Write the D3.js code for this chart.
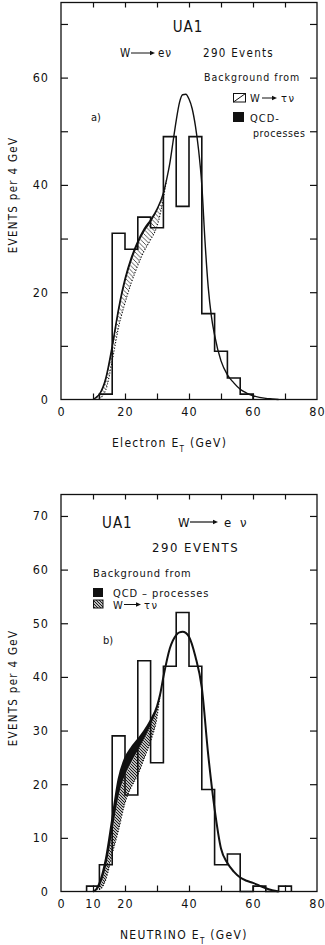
<!DOCTYPE html>
<html><head><meta charset="utf-8">
<script src="https://cdn.jsdelivr.net/npm/d3@7"></script>
<style>
html,body{margin:0;padding:0;background:#fff;}
svg{display:block;}
text{font-family:"Liberation Sans Narrow","DejaVu Sans Condensed","Roboto Condensed","Liberation Sans",sans-serif;fill:#111;}
</style></head><body>
<svg id="chart" width="325" height="945"></svg>
<script>
// ---- a) Electron E_T, events per 4 GeV bin ----
const binLeftA = [12,16,20,24,28,32,36,40,44,48,52,56];
const countsA  = [1,31,28,34,32,49,36,49,16,9,4,1];
// fitted spectrum (total, background included)
const fitEtA = [10,11,12,14,16,18,20,22,24,26,28,30,32,33,34,35,36,37,38,39,40,41,42,43,44,45,46,47,48,50,52,54,56,58,60,62,64,66,68];
const fitA   = [0,0.4,1,4,10,17,22.5,26.5,29.5,31.8,33.5,35.5,38.5,41,44,48,52,55.3,56.8,56.9,56,54.2,51,46.5,40,29.5,21,15.5,12,7.2,4.6,3.1,1.9,1.2,0.7,0.4,0.2,0.1,0];
// background bands: lower edge of QCD band and lower edge of W -> tau nu band
const bandEtA  = [11,12,14,16,18,20,22,24,26,28,30,32,33];
const qcdLowA  = [0.4,0.8,3.3,9.0,16.0,21.6,25.7,28.8,31.2,33.0,35.1,38.3,41];
const tauLowA  = [0.4,0.3,1.8,7.2,13.5,18,21.8,25,27.7,29.8,32.3,37.5,41];

// ---- b) Neutrino E_T ----
const binLeftB = [8,12,16,20,24,28,32,36,40,44,48,52,56,60,64,68];
const countsB  = [1,5,29,18,43,24,42,52,42,19,5,7,0,1,0,1];
const fitEtB = [10,11,12,14,16,18,20,22,24,26,28,30,31,32,34,36,37,38,39,40,42,44,46,48,50,52,54,56,58,60,62,64,66,68];
const fitB   = [0,0.4,1.5,6,13.5,21,24.8,26.8,28.3,29.9,31.9,34.5,36.8,40,45.3,47.8,48.3,48.4,48.2,47.5,43.8,38,25.5,15.4,8,5.3,3.7,2.6,2,1.6,1.1,0.6,0.25,0];
const bandEtB  = [11,12,14,16,18,20,22,24,26,28,30,31];
const qcdLowB  = [0.4,1.0,4.5,11,17.8,21.7,24.2,26.3,28.5,31,34,36.8];
const tauLowB  = [0.4,0.4,2.2,7,11.5,16.5,19.5,21.7,24.8,28,32.5,36.8];

const binWidth = 4;
const xTicks = [0,10,20,30,40,50,60,70,80];
const yTicks = [0,10,20,30,40,50,60,70];
const xLabelsA = [0,20,40,60,80];
const yLabelsA = [0,20,40,60];
const xLabelsB = [0,10,20,40,60,80];
const yLabelsB = [0,10,20,30,40,50,60,70];

const svg = d3.select("#chart");
const defs = svg.append("defs");

function hatchPattern(id, step, width) {
  const p = defs.append("pattern").attr("id", id)
    .attr("patternUnits", "userSpaceOnUse").attr("width", step).attr("height", step);
  p.append("path")
    .attr("d", `M0,0L${step},${step}M${-step/2},${step/2}L${step/2},${step*1.5}M${step/2},${-step/2}L${step*1.5},${step/2}`)
    .attr("stroke", "#111").attr("stroke-width", width);
}
hatchPattern("hatchA", 4.5, 0.7);
hatchPattern("hatchB", 3, 1.1);

function arrow(g, x1, x2, yy, w) {
  g.append("line").attr("x1", x1).attr("x2", x2 - 4).attr("y1", yy).attr("y2", yy)
    .attr("stroke", "#111").attr("stroke-width", w);
  g.append("path").attr("d", `M${x2},${yy}L${x2-5},${yy-2.3}L${x2-5},${yy+2.3}Z`).attr("fill", "#111");
}

function drawPanel(cfg) {
  const g = svg.append("g");
  const x = d3.scaleLinear().domain([0, 80]).range([61, 317]);
  const y = d3.scaleLinear().domain([0, 74]).range([cfg.bottom, cfg.bottom - 397]);

  // background bands
  const band = cfg.bandEt.map((e, i) => ({
    e, top: cfg.fit[cfg.fitEt.indexOf(e)], qcd: cfg.qcdLow[i], tau: cfg.tauLow[i]
  }));
  g.append("path").datum(band)
    .attr("d", d3.area().curve(d3.curveMonotoneX).x(d => x(d.e)).y0(d => y(d.qcd)).y1(d => y(d.top)))
    .attr("fill", "#111");
  g.append("path").datum(band)
    .attr("d", d3.area().curve(d3.curveMonotoneX).x(d => x(d.e)).y0(d => y(d.tau)).y1(d => y(d.qcd)))
    .attr("fill", `url(#${cfg.hatch})`);
  g.append("path").datum(band)
    .attr("d", d3.line().curve(d3.curveMonotoneX).x(d => x(d.e)).y(d => y(d.tau)))
    .attr("fill", "none").attr("stroke", "#111").attr("stroke-width", 1.1).attr("stroke-dasharray", "1.2,1.6");

  // histogram outline
  const steps = [[cfg.binLeft[0], 0]];
  cfg.binLeft.forEach((l, i) => { steps.push([l, cfg.counts[i]], [l + binWidth, cfg.counts[i]]); });
  steps.push([cfg.binLeft[cfg.binLeft.length - 1] + binWidth, 0]);
  g.append("path").datum(steps)
    .attr("d", d3.line().x(d => x(d[0])).y(d => y(d[1])))
    .attr("fill", "none").attr("stroke", "#111").attr("stroke-width", 1.6).attr("stroke-linejoin", "miter");

  // fitted curve
  const fitPts = cfg.fitEt.map((e, i) => [e, cfg.fit[i]]);
  g.append("path").datum(fitPts)
    .attr("d", d3.line().curve(d3.curveMonotoneX).x(d => x(d[0])).y(d => y(d[1])))
    .attr("fill", "none").attr("stroke", "#111").attr("stroke-width", cfg.fitWidth);

  // axes: ticks point inwards on all four sides
  const fmt = labels => d => labels.includes(d) ? d : "";
  const axB = g.append("g").attr("transform", `translate(0,${y(0)})`)
    .call(d3.axisBottom(x).tickValues(xTicks).tickSize(-6).tickPadding(8).tickFormat(fmt(cfg.xLabels)));
  const axT = g.append("g").attr("transform", `translate(0,${y(74)})`)
    .call(d3.axisTop(x).tickValues(xTicks).tickSize(-5).tickFormat(""));
  const axL = g.append("g").attr("transform", `translate(${x(0)},0)`)
    .call(d3.axisLeft(y).tickValues(yTicks).tickSize(-7).tickPadding(12).tickFormat(fmt(cfg.yLabels)));
  const axR = g.append("g").attr("transform", `translate(${x(80)},0)`)
    .call(d3.axisRight(y).tickValues(yTicks).tickSize(-7).tickFormat(""));
  [axB, axT, axL, axR].forEach(a => {
    a.select(".domain").remove();
    a.selectAll(".tick line").attr("stroke", "#111").attr("stroke-width", 1.2);
    a.selectAll("text").attr("font-size", 12.5).attr("fill", "#111")
      .attr("font-family", null).attr("letter-spacing", 1);
  });
  axB.selectAll(".tick").filter(d => d === 0 || d === 80).select("line").remove();
  axT.selectAll(".tick").filter(d => d === 0 || d === 80).select("line").remove();
  axL.selectAll(".tick").filter(d => d === 0).select("line").remove();
  axR.selectAll(".tick").filter(d => d === 0).select("line").remove();

  g.append("rect").attr("x", x(0)).attr("y", y(74)).attr("width", x(80) - x(0)).attr("height", y(0) - y(74))
    .attr("fill", "none").attr("stroke", "#111").attr("stroke-width", 1.3);

  // axis titles
  g.append("text").attr("transform", `translate(17,${cfg.yTitleMid}) rotate(-90)`)
    .attr("text-anchor", "middle").attr("font-size", 11.5).attr("letter-spacing", 1.3)
    .text("EVENTS per 4 GeV");
  const xt = g.append("text").attr("x", cfg.xTitleX).attr("y", y(0) + 47.5)
    .attr("font-size", 12).attr("letter-spacing", 1.3);
  xt.append("tspan").text(cfg.xTitleA);
  xt.append("tspan").attr("font-size", 8).attr("dy", 4.5).text("T");
  xt.append("tspan").attr("dy", -4.5).text(cfg.xTitleB);
  return g;
}

// ---- panel a ----
const ga = drawPanel({
  bottom: 399.5, binLeft: binLeftA, counts: countsA, fitEt: fitEtA, fit: fitA,
  bandEt: bandEtA, qcdLow: qcdLowA, tauLow: tauLowA, hatch: "hatchA", fitWidth: 1.4,
  xLabels: xLabelsA, yLabels: yLabelsA, yTitleMid: 195, xTitleX: 112,
  xTitleA: "Electron E", xTitleB: " (GeV)"
});
ga.append("text").attr("x", 188).attr("y", 32).attr("text-anchor", "middle")
  .attr("font-size", 15).attr("letter-spacing", 1).text("UA1");
ga.append("text").attr("x", 120).attr("y", 57).attr("font-size", 11.5).text("W");
arrow(ga, 131, 155, 53, 1);
ga.append("text").attr("x", 158).attr("y", 57).attr("font-size", 11.5).attr("letter-spacing", 1).text("eν");
ga.append("text").attr("x", 203).attr("y", 57).attr("font-size", 11.5).attr("letter-spacing", 1.3).text("290 Events");
ga.append("text").attr("x", 204).attr("y", 81).attr("font-size", 10.5).attr("letter-spacing", 1).text("Background from");
ga.append("rect").attr("x", 233.5).attr("y", 93.5).attr("width", 12).attr("height", 8.5)
  .attr("fill", "none").attr("stroke", "#111").attr("stroke-width", 1);
ga.append("line").attr("x1", 233.5).attr("y1", 102).attr("x2", 245.5).attr("y2", 93.5).attr("stroke", "#111").attr("stroke-width", 1);
ga.append("text").attr("x", 250).attr("y", 102).attr("font-size", 11).text("W");
arrow(ga, 262, 277, 98, 1);
ga.append("text").attr("x", 281).attr("y", 102).attr("font-size", 11).attr("letter-spacing", 1.5).text("τν");
ga.append("rect").attr("x", 233).attr("y", 112).attr("width", 11).attr("height", 10).attr("fill", "#111");
ga.append("text").attr("x", 250).attr("y", 122).attr("font-size", 11).attr("letter-spacing", 1).text("QCD-");
ga.append("text").attr("x", 253).attr("y", 137).attr("font-size", 10.5).attr("letter-spacing", 0.6).text("processes");
ga.append("text").attr("x", 91).attr("y", 121).attr("font-size", 11).text("a)");

// ---- panel b ----
const gb = drawPanel({
  bottom: 891.5, binLeft: binLeftB, counts: countsB, fitEt: fitEtB, fit: fitB,
  bandEt: bandEtB, qcdLow: qcdLowB, tauLow: tauLowB, hatch: "hatchB", fitWidth: 2,
  xLabels: xLabelsB, yLabels: yLabelsB, yTitleMid: 688, xTitleX: 120,
  xTitleA: "NEUTRINO E", xTitleB: "   (GeV)"
});
gb.append("text").attr("x", 102).attr("y", 528).attr("font-size", 15).attr("letter-spacing", 1).text("UA1");
gb.append("text").attr("x", 178).attr("y", 527).attr("font-size", 13).text("W");
arrow(gb, 190, 218, 522, 1.2);
gb.append("text").attr("x", 224).attr("y", 527).attr("font-size", 13).text("e");
gb.append("text").attr("x", 240).attr("y", 527).attr("font-size", 13).text("ν");
gb.append("text").attr("x", 152).attr("y", 552).attr("font-size", 13).attr("letter-spacing", 1.5).text("290 EVENTS");
gb.append("text").attr("x", 93).attr("y", 577).attr("font-size", 11).attr("letter-spacing", 0.9).text("Background from");
gb.append("rect").attr("x", 93).attr("y", 588).attr("width", 10).attr("height", 9).attr("fill", "#111");
gb.append("text").attr("x", 113).attr("y", 597).attr("font-size", 11).attr("letter-spacing", 0.9).text("QCD – processes");
gb.append("rect").attr("x", 93.5).attr("y", 600).attr("width", 9.5).attr("height", 8)
  .attr("fill", "url(#hatchB)").attr("stroke", "#111").attr("stroke-width", 1);
gb.append("text").attr("x", 113).attr("y", 608.5).attr("font-size", 11).text("W");
arrow(gb, 124, 141, 604.5, 1);
gb.append("text").attr("x", 144).attr("y", 608.5).attr("font-size", 11).attr("letter-spacing", 1.5).text("τν");
gb.append("text").attr("x", 103).attr("y", 644).attr("font-size", 11).text("b)");
</script>
</body></html>
